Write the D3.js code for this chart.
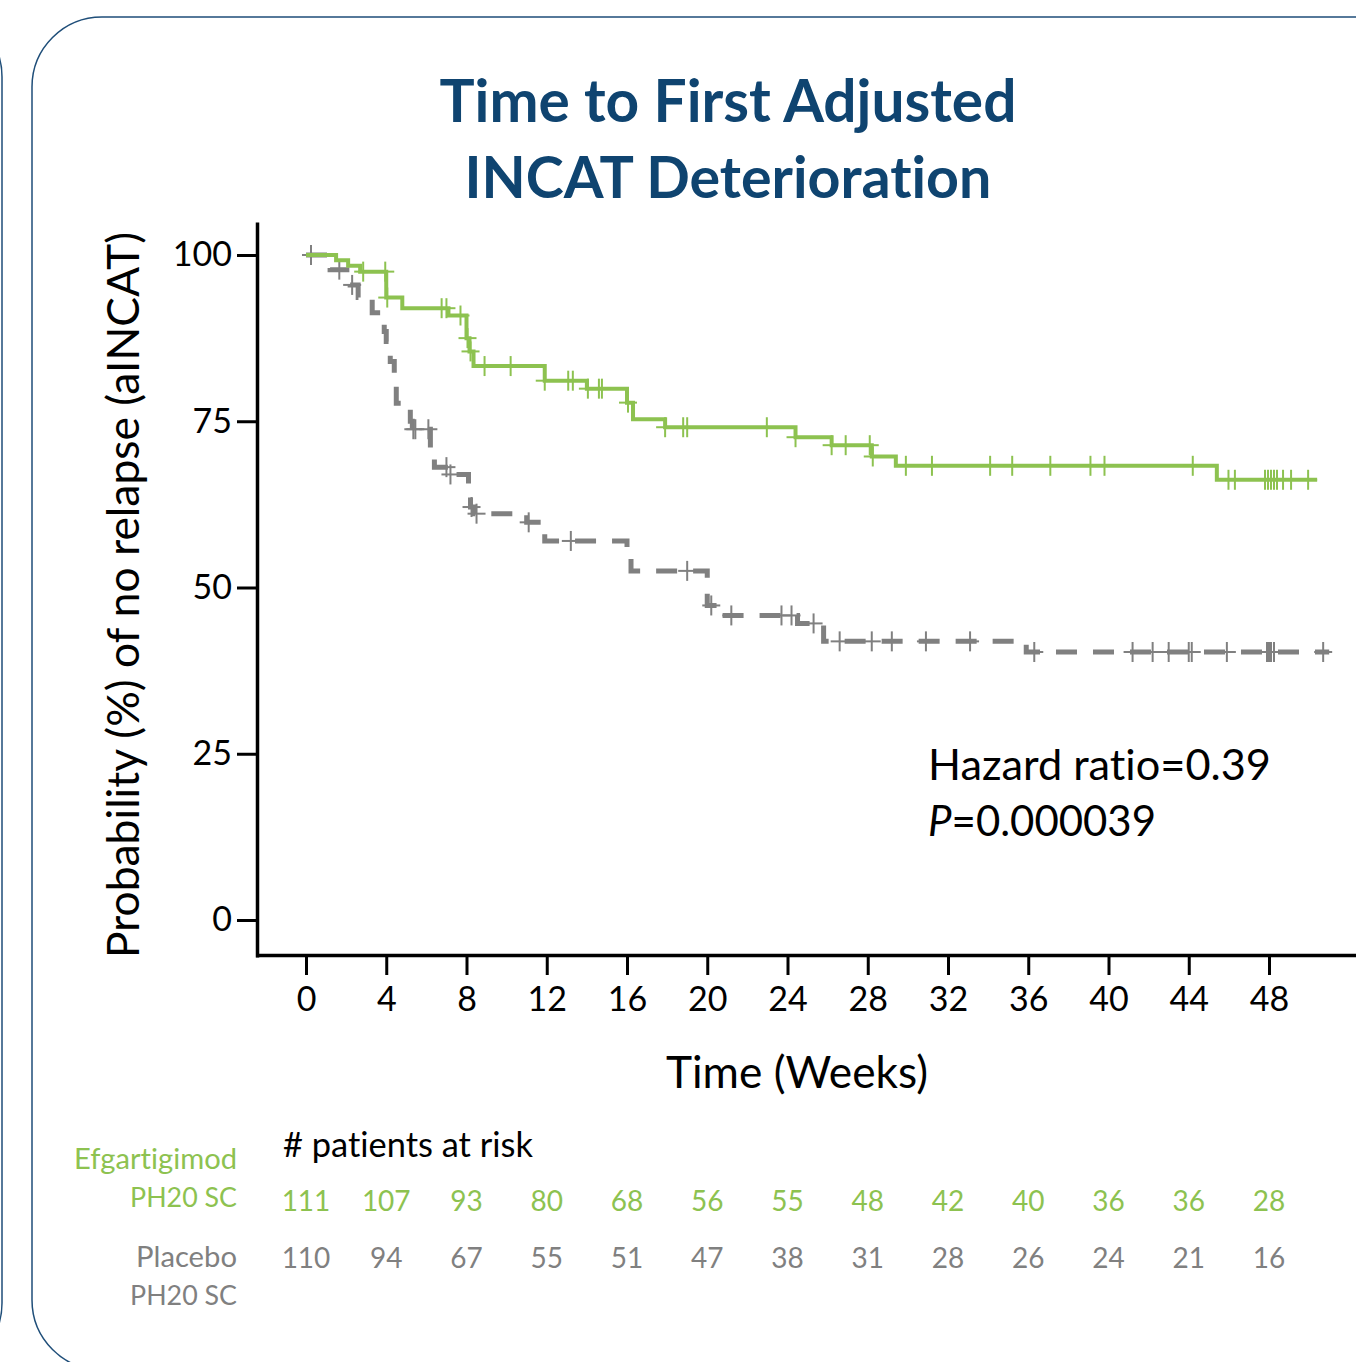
<!DOCTYPE html>
<html>
<head>
<meta charset="utf-8">
<script src="https://cdn.jsdelivr.net/npm/d3@7"></script>
<style>
  body { margin: 0; background: #fff; }
  svg { display: block; }
  text { font-family: Lato, "Open Sans", sans-serif; font-variant-ligatures: none; font-feature-settings: "liga" 0; }
</style>
</head>
<body>
<svg id="chart" width="1356" height="1362"></svg>
<script>
// ---- data ----
const weekTicks = [0, 4, 8, 12, 16, 20, 24, 28, 32, 36, 40, 44, 48];
const pctTicks = [0, 25, 50, 75, 100];

// [week, % without relapse] at each drop
const efgSteps = [
  [0, 100], [1.5, 99.2], [2.1, 98.4], [2.7, 97.5], [4.0, 93.6], [4.8, 92.0],
  [7.1, 90.9], [8.0, 87.5], [8.15, 85.5], [8.35, 83.3], [11.9, 81.1], [14.0, 79.9],
  [16.0, 77.8], [16.3, 75.3], [17.9, 74.1], [24.4, 72.6], [26.2, 71.4],
  [28.2, 69.7], [29.4, 68.3], [45.4, 66.2]
];
const efgEnd = 50.4;
const efgCensor = [
  2.85, 3.95, 4.05, 6.76, 7.0, 7.7, 8.05, 8.2, 8.9, 10.2, 11.9, 13.07, 13.3, 14.05,
  14.6, 14.75, 16.05, 17.9, 18.8, 19.0, 22.97, 24.4, 26.2, 26.9, 28.1, 28.25, 29.9,
  31.2, 34.1, 35.2, 37.1, 39.1, 39.8, 44.2, 45.98, 46.3, 47.8, 47.95, 48.1, 48.25,
  48.4, 48.7, 49.1, 49.95
];

const pboSteps = [
  [0, 100], [1.2, 97.8], [2.2, 95.5], [2.6, 93.6], [3.3, 91.3], [3.9, 88.5],
  [4.0, 87.0], [4.2, 84.0], [4.4, 80.5], [4.5, 77.7], [5.2, 75.0], [5.3, 73.8],
  [6.2, 70.5], [6.4, 68.1], [7.1, 67.0], [8.1, 64.5], [8.2, 62.1], [8.4, 61.1],
  [11.0, 59.8], [11.9, 57.0], [16.0, 55.3], [16.2, 52.5], [20.0, 47.3],
  [20.5, 45.8], [24.5, 44.6], [25.8, 41.9], [35.9, 40.3]
];
const pboEnd = 51.0;
const pboCensor = [
  0.25, 1.66, 2.3, 5.35, 5.45, 6.1, 7.0, 7.2, 8.25, 8.5, 11.1, 13.2, 19.0, 20.2,
  21.2, 23.7, 24.2, 25.3, 26.6, 28.2, 29.2, 30.9, 33.1, 36.3, 41.2, 42.2, 43.0,
  44.0, 44.15, 45.9, 47.9, 48.0, 48.1, 48.25, 50.7
];

const efgAtRisk = [111, 107, 93, 80, 68, 56, 55, 48, 42, 40, 36, 36, 28];
const pboAtRisk = [110, 94, 67, 55, 51, 47, 38, 31, 28, 26, 24, 21, 16];

const green = "#8dc250";
const grey = "#808080";
const navy = "#0f4470";

// ---- setup ----
const svg = d3.select("#chart");

// panel outlines
svg.append("rect")
  .attr("x", -400).attr("y", 7).attr("width", 402).attr("height", 1366)
  .attr("rx", 70)
  .attr("fill", "none").attr("stroke", "#1f4e79").attr("stroke-width", 1.5);
svg.append("rect")
  .attr("x", 32).attr("y", 17).attr("width", 1500).attr("height", 1353)
  .attr("rx", 70)
  .attr("fill", "none").attr("stroke", "#1f4e79").attr("stroke-width", 1.5);

const x = d3.scaleLinear().domain([0, 48]).range([306, 1269]);
const y = d3.scaleLinear().domain([0, 100]).range([920, 255]);

// scales covering the full drawn axis lines
const xAxisScale = x.copy().domain([x.invert(255.5), x.invert(1360)]).range([255.5, 1360]);
const yAxisScale = y.copy().domain([y.invert(957), y.invert(222)]).range([957, 222]);

function fit(sel, w) {
  const len = sel.node().getComputedTextLength();
  const fs = parseFloat(sel.attr("font-size"));
  sel.attr("font-size", (fs * w / len).toFixed(2));
  return sel;
}

// title
fit(svg.append("text")
  .attr("x", 728).attr("y", 122)
  .attr("text-anchor", "middle")
  .attr("font-size", 56).attr("font-weight", 700)
  .attr("fill", navy)
  .text("Time to First Adjusted"), 577);
fit(svg.append("text")
  .attr("x", 728).attr("y", 198)
  .attr("text-anchor", "middle")
  .attr("font-size", 56).attr("font-weight", 700)
  .attr("fill", navy)
  .text("INCAT Deterioration"), 527);

// axes
const yAxis = svg.append("g")
  .attr("transform", "translate(257,0)")
  .call(d3.axisLeft(yAxisScale).tickValues(pctTicks).tickSize(20).tickSizeOuter(0).tickPadding(5));
const xAxis = svg.append("g")
  .attr("transform", "translate(0,955)")
  .call(d3.axisBottom(xAxisScale).tickValues(weekTicks).tickSize(20).tickSizeOuter(0).tickPadding(12));

[yAxis, xAxis].forEach(g => {
  g.select(".domain").attr("stroke", "#000").attr("stroke-width", 3.5);
  g.selectAll(".tick line").attr("stroke", "#000").attr("stroke-width", 3);
  g.selectAll(".tick text")
    .attr("fill", "#000")
    .style("font-family", "Lato, 'Open Sans', sans-serif")
    .style("font-size", "34px");
});

// axis titles
fit(svg.append("text")
  .attr("transform", "translate(139,595) rotate(-90)")
  .attr("text-anchor", "middle")
  .attr("font-size", 38)
  .text("Probability (%) of no relapse (aINCAT)"), 726);
fit(svg.append("text")
  .attr("x", 797).attr("y", 1088)
  .attr("text-anchor", "middle")
  .attr("font-size", 40)
  .text("Time (Weeks)"), 262);

// curves
const stepLine = d3.line()
  .x(d => x(d[0]))
  .y(d => y(d[1]))
  .curve(d3.curveStepAfter);

function survivalAt(steps, t) {
  let p = steps[0][1];
  for (const s of steps) if (s[0] <= t) p = s[1];
  return p;
}

function drawCurve(steps, end, censor, color, dash, width) {
  const pts = steps.concat([[end, steps[steps.length - 1][1]]]);
  svg.append("path")
    .datum(pts)
    .attr("d", stepLine)
    .attr("fill", "none")
    .attr("stroke", color)
    .attr("stroke-width", width)
    .attr("stroke-dasharray", dash);

  const marks = svg.append("g")
    .attr("stroke", color)
    .attr("stroke-width", 2);
  censor.forEach(t => {
    const cx = x(t), cy = y(survivalAt(steps, t));
    marks.append("line").attr("x1", cx - 9).attr("x2", cx + 9).attr("y1", cy).attr("y2", cy);
    marks.append("line").attr("x1", cx).attr("x2", cx).attr("y1", cy - 10).attr("y2", cy + 10);
  });
}

drawCurve(pboSteps, pboEnd, pboCensor, grey, "21 16", 5);
drawCurve(efgSteps, efgEnd, efgCensor, green, null, 4);

// stats
fit(svg.append("text")
  .attr("x", 928).attr("y", 780)
  .attr("font-size", 40)
  .text("Hazard ratio=0.39"), 343);
const pText = svg.append("text")
  .attr("x", 928).attr("y", 836)
  .attr("font-size", 40);
pText.append("tspan").attr("font-style", "italic").text("P");
pText.append("tspan").text("=0.000039");
fit(pText, 228);

// patients at risk
fit(svg.append("text")
  .attr("x", 283).attr("y", 1157)
  .attr("font-size", 32)
  .text("# patients at risk"), 250);

const labels = [
  ["Efgartigimod", 1169, green, 163],
  ["PH20 SC", 1207, green, 107],
  ["Placebo", 1267, grey, 101],
  ["PH20 SC", 1305, grey, 107]
];
labels.forEach(([txt, by, col, w]) => {
  fit(svg.append("text")
    .attr("x", 237).attr("y", by)
    .attr("text-anchor", "end")
    .attr("font-size", 30)
    .attr("fill", col)
    .text(txt), w);
});

svg.append("g").selectAll("text")
  .data(efgAtRisk)
  .join("text")
  .attr("x", (d, i) => x(weekTicks[i]))
  .attr("y", 1211)
  .attr("text-anchor", "middle")
  .attr("font-size", 28)
  .attr("fill", green)
  .text(d => d);

svg.append("g").selectAll("text")
  .data(pboAtRisk)
  .join("text")
  .attr("x", (d, i) => x(weekTicks[i]))
  .attr("y", 1268)
  .attr("text-anchor", "middle")
  .attr("font-size", 28)
  .attr("fill", grey)
  .text(d => d);
</script>
</body>
</html>
